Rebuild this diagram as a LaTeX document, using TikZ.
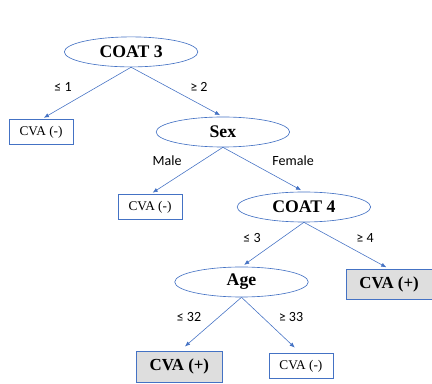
\documentclass[tikz,border=0pt]{standalone}
\usepackage{fontspec}
\setmainfont{Liberation Serif}
\newfontfamily\labfont{Carlito}
\usetikzlibrary{positioning}
\usetikzlibrary{shapes.geometric}
\usetikzlibrary{arrows.meta}
\usepackage{xcolor}
\definecolor{treeblue}{RGB}{68,114,196}
\definecolor{leafgray}{RGB}{222,222,222}

\begin{document}
\begin{tikzpicture}[
  % --- styles ---
  split/.style={
    draw=treeblue, ellipse, fill=white, line width=0.6pt,
    minimum width=4.45cm, minimum height=1.0cm, inner sep=0pt,
    font=\fontsize{16.8}{19}\selectfont\bfseries
  },
  negleaf/.style={
    draw=treeblue, fill=white, line width=0.6pt,
    minimum width=2.13cm, minimum height=0.82cm, inner sep=2pt,
    font=\fontsize{12.6}{15}\selectfont
  },
  posleaf/.style={
    draw=treeblue, fill=leafgray, line width=0.6pt,
    minimum width=2.85cm, minimum height=1.02cm, inner sep=2pt,
    font=\fontsize{16}{19}\selectfont\bfseries
  },
  arrow/.style={-{Latex[length=1.7mm,width=1.4mm]}, draw=treeblue, line width=0.55pt, shorten >=3pt},
  lab/.style={font=\labfont\fontsize{13.3}{15}\selectfont, inner sep=1pt}
]
\useasboundingbox (0,0) rectangle (14.4,-12.77);

% ======================================================
% Split nodes
% ======================================================
\node[split] (coat3) at ( 4.37, -1.73) {COAT 3};
\node[split] (sex)   at ( 7.43, -4.40) {Sex};
\node[split] (coat4) at (10.13, -6.90) {COAT 4};
\node[split] (age)   at ( 8.05, -9.40) {Age};

% ======================================================
% Leaves
% ======================================================
\node[negleaf] (leafa) at ( 1.37, -4.40) {CVA (-)};
\node[negleaf] (leafb) at ( 5.00, -6.90) {CVA (-)};
\node[posleaf] (leafc) at (12.97, -9.48) {CVA (+)};
\node[posleaf] (leafd) at ( 5.98,-12.23) {CVA (+)};
\node[negleaf] (leafe) at (10.03,-12.20) {CVA (-)};

% ======================================================
% Branches
% ======================================================
\draw[arrow] (coat3.south) -- (leafa.north);
\draw[arrow] (coat3.south) -- (sex.north);
\draw[arrow] (sex.south) -- (leafb.north);
\draw[arrow] (sex.south) -- (coat4.north);
\draw[arrow] (coat4.south) -- (age.north);
\draw[arrow] (coat4.south) -- (leafc.north);
\draw[arrow, shorten >=7pt] (age.south) -- (leafd.north);
\draw[arrow, shorten >=8pt] (age.south) -- (leafe.north);

% ======================================================
% Branch labels
% ======================================================
\node[lab] (l1)  at ( 2.10, -2.90) {≤ 1};
\node[lab] (l2)  at ( 6.63, -2.90) {≥ 2};
\node[lab] (l3)  at ( 5.57, -5.37) {Male};
\node[lab] (l4)  at ( 9.77, -5.37) {Female};
\node[lab] (l5)  at ( 8.40, -7.93) {≤ 3};
\node[lab] (l6)  at (12.17, -7.93) {≥ 4};
\node[lab] (l7)  at ( 6.30,-10.57) {≤ 32};
\node[lab] (l8)  at ( 9.70,-10.57) {≥ 33};

\end{tikzpicture}
\end{document}
